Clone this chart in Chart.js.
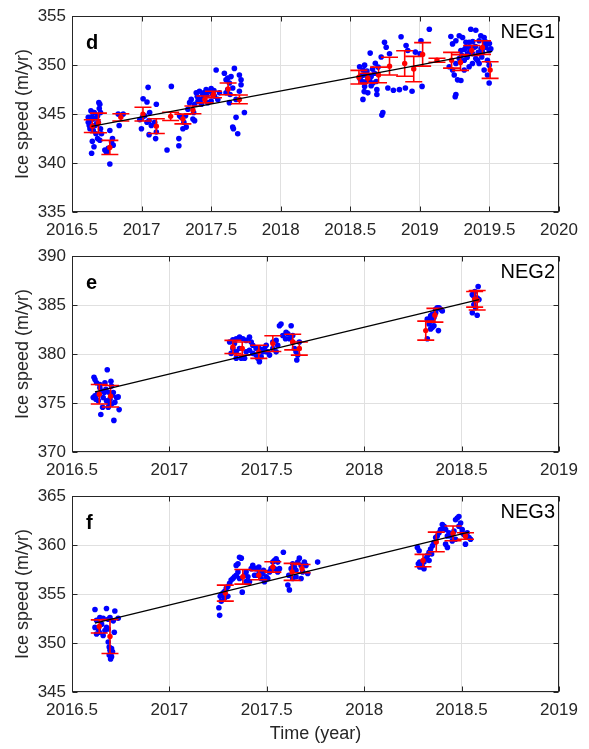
<!DOCTYPE html>
<html><head><meta charset="utf-8">
<script src="https://cdn.jsdelivr.net/npm/chart.js@4"></script>
<style>body{margin:0;background:#fff;width:589px;height:749px;overflow:hidden;position:relative;} canvas{position:absolute;left:0;}</style>
</head><body>
<canvas id="c1" width="589" height="240" style="top:0px"></canvas>
<canvas id="c2" width="589" height="240" style="top:240px"></canvas>
<canvas id="c3" width="589" height="269" style="top:480px"></canvas>
<script>
// ---------------- DATA ----------------
// Panel d (NEG1): individual velocity measurements [time, speed]
const neg1Points = [
[2016.617,344.67],[2016.641,344.73],[2016.634,344.33],[2016.653,344.5],[2016.665,343.83],[2016.677,344.0],[2016.684,344.83],[2016.693,346.17],[2016.700,346.0],[2016.696,345.57],[2016.629,343.5],[2016.653,343.33],[2016.672,343.0],[2016.646,342.23],[2016.658,341.67],[2016.641,341.0],[2016.684,342.5],[2016.700,342.33],[2016.705,343.5],[2016.712,343.0],[2016.624,343.83],[2016.617,344.17],[2016.677,344.67],[2016.660,345.17],[2016.636,345.33],[2016.705,345.17],[2016.689,344.17],
[2016.736,341.33],[2016.748,341.1],[2016.772,339.9],[2016.784,342.17],[2016.760,341.5],[2016.791,342.5],[2016.772,343.33],[2016.796,341.83],[2016.832,345.0],[2016.868,345.0],[2016.839,343.83],
[2017.011,346.57],[2017.047,347.73],[2017.039,346.23],[2017.058,345.17],[2017.023,344.83],[2017.006,344.67],[2017.054,344.33],[2017.070,343.83],[2017.106,346.0],[2017.094,344.17],[2017.106,343.17],[2017.101,342.5],[2017.054,342.9],[2017.039,344.17],[2016.987,344.43],[2016.999,343.5],
[2017.183,341.33],[2017.214,347.83],[2017.268,341.77],[2017.268,342.5],
[2017.273,344.83],[2017.285,344.67],[2017.297,343.5],[2017.304,344.17],[2017.316,344.83],[2017.321,343.67],[2017.333,345.5],[2017.345,346.17],[2017.357,346.5],[2017.369,344.5],[2017.381,344.33],[2017.374,345.17],
[2017.393,347.17],[2017.416,347.33],[2017.440,347.0],[2017.464,347.5],[2017.488,347.33],[2017.512,347.0],[2017.536,349.5],[2017.500,346.33],[2017.476,346.17],[2017.428,346.5],[2017.405,346.33],[2017.381,346.0],[2017.452,346.67],[2017.524,346.83],[2017.548,346.5],[2017.560,347.17],[2017.40,346.8],[2017.45,347.2],[2017.47,346.9],[2017.52,347.4],[2017.43,346.0],[2017.50,347.6],
[2017.595,349.17],[2017.607,348.5],[2017.619,348.67],[2017.631,348.17],[2017.643,348.83],[2017.667,349.67],[2017.655,347.67],[2017.619,347.5],[2017.636,347.0],[2017.679,346.5],[2017.703,349.0],[2017.715,348.5],[2017.715,348.0],[2017.703,347.33],[2017.739,345.17],[2017.655,343.67],[2017.660,343.5],[2017.691,343.0],[2017.679,344.67],[2017.631,346.17],[2017.607,347.17],
[2018.567,349.83],[2018.591,349.5],[2018.603,350.0],[2018.615,349.17],[2018.626,348.67],[2018.638,348.5],[2018.650,348.83],[2018.662,348.17],[2018.674,349.17],[2018.686,348.33],[2018.586,348.33],[2018.603,347.83],[2018.591,346.5],[2018.626,347.17],[2018.691,347.5],[2018.691,347.0],[2018.643,351.23],[2018.722,350.83],[2018.746,352.33],[2018.758,351.83],[2018.782,351.17],[2018.734,345.17],[2018.727,344.9],[2018.770,347.67],[2018.810,347.43],[2018.853,347.5],[2018.865,352.9],[2018.901,352.0],[2018.913,351.5],[2018.896,347.67],[2018.944,347.33],[2019.008,352.5],[2019.001,351.17],[2019.016,347.83],[2018.968,351.33],[2019.068,353.67],
[2018.58,348.9],[2018.60,349.0],[2018.62,349.4],[2018.64,348.9],[2018.61,348.3],[2018.66,349.6],[2018.57,348.6],[2018.70,349.8],[2018.60,347.3],[2018.65,347.9],[2018.68,350.2],
[2019.223,352.93],[2019.235,352.17],[2019.259,352.5],[2019.283,353.0],[2019.295,351.5],[2019.307,352.83],[2019.331,351.83],[2019.354,352.33],[2019.366,353.67],[2019.402,353.57],[2019.438,353.0],[2019.462,352.83],[2019.474,352.17],[2019.498,351.5],[2019.510,351.67],[2019.445,350.83],[2019.426,350.17],[2019.402,350.67],[2019.378,351.17],[2019.342,351.17],[2019.319,350.5],[2019.283,350.67],[2019.259,350.17],[2019.235,349.5],[2019.211,349.83],[2019.247,349.0],[2019.271,348.5],[2019.295,348.43],[2019.259,347.0],[2019.254,346.77],[2019.319,349.5],[2019.354,349.83],[2019.378,350.17],[2019.414,350.5],[2019.462,349.5],[2019.486,349.0],[2019.498,348.17],[2019.474,351.83],[2019.426,352.5],[2019.390,351.83],[2019.331,352.33],[2019.366,351.83],[2019.450,351.33],[2019.486,350.5],[2019.498,350.0],
[2019.30,351.0],[2019.34,350.8],[2019.36,351.5],[2019.40,351.9],[2019.42,351.3],[2019.44,351.7],[2019.38,352.4],[2019.32,351.6],[2019.47,352.4],[2019.50,352.2]
];
// Panel d: averaged values with error [time, mean, error]
const neg1Means = [
[2016.646,343.77,0.65],[2016.69,344.1,1.0],[2016.772,341.6,0.72],[2016.851,344.67,0.37],[2017.01,345.0,0.7],[2017.106,343.77,0.75],[2017.209,344.77,0.42],[2017.297,344.5,0.5],[2017.369,345.43,0.4],[2017.455,346.5,0.35],[2017.517,347.0,0.33],[2017.622,347.57,0.6],[2017.703,346.5,0.45],
[2018.562,348.77,0.7],[2018.626,348.67,0.5],[2018.703,349.0,0.8],[2018.782,349.9,0.9],[2018.891,350.17,1.3],[2018.956,349.6,1.3],[2019.02,351.1,1.2],[2019.123,350.5,0.2],[2019.228,350.5,0.8],[2019.292,350.27,0.8],[2019.373,351.5,0.5],[2019.45,351.8,0.7],[2019.505,349.5,0.85]
];
const neg1Trend = [[2016.64,343.74],[2019.52,351.4]];

// Panel e (NEG2)
const neg2Points = [
[2016.613,377.63],[2016.618,377.4],[2016.681,378.4],[2016.626,377.07],[2016.643,376.9],[2016.669,377.07],[2016.700,377.23],[2016.703,376.73],[2016.609,375.57],[2016.618,375.73],[2016.630,375.9],[2016.652,376.23],[2016.674,376.4],[2016.691,376.07],[2016.712,376.07],[2016.729,375.57],[2016.737,375.63],[2016.720,375.07],[2016.703,374.9],[2016.686,374.57],[2016.691,374.9],[2016.657,374.57],[2016.648,373.83],[2016.715,373.23],[2016.742,374.33],[2016.623,375.4],[2016.635,375.23],[2016.660,375.57],[2016.677,375.23],[2016.695,375.4],[2016.708,375.83],[2016.666,376.07],[2016.643,376.57],
[2017.309,381.23],[2017.326,381.47],[2017.343,381.57],[2017.360,381.73],[2017.377,381.57],[2017.394,381.4],[2017.411,381.73],[2017.420,381.23],[2017.428,380.9],[2017.326,380.57],[2017.343,380.23],[2017.369,379.57],[2017.386,379.57],[2017.394,380.23],[2017.411,380.4],[2017.428,380.07],[2017.445,379.9],[2017.462,379.23],[2017.454,379.57],[2017.471,379.73],[2017.480,380.23],[2017.488,380.57],[2017.497,380.9],[2017.505,380.23],[2017.514,379.9],[2017.531,381.23],[2017.548,381.4],[2017.556,380.9],[2017.565,382.9],[2017.573,383.07],[2017.582,381.9],[2017.599,382.23],[2017.608,382.07],[2017.616,381.57],[2017.625,382.9],[2017.633,381.23],[2017.642,380.57],[2017.650,380.23],[2017.659,379.9],[2017.654,379.4],[2017.667,381.23],[2017.633,381.9],[2017.596,381.57],[2017.531,380.57],[2017.548,380.23],[2017.497,380.23],[2017.445,380.57],[2017.462,380.57],[2017.360,380.57],[2017.334,381.07],[2017.317,380.07],[2017.343,379.57],
[2018.324,381.57],[2018.341,382.57],[2018.350,382.73],[2018.358,382.9],[2018.333,383.07],[2018.324,383.57],[2018.341,383.9],[2018.350,384.07],[2018.367,384.57],[2018.375,384.73],[2018.384,384.73],[2018.392,384.57],[2018.401,384.4],[2018.358,383.73],[2018.341,383.4],[2018.381,382.4],[2018.367,384.23],[2018.350,383.4],
[2018.585,386.9],[2018.555,386.07],[2018.563,385.9],[2018.572,385.57],[2018.580,385.73],[2018.589,385.57],[2018.555,384.23],[2018.580,383.97],[2018.563,385.07],[2018.572,384.73],[2018.568,386.4]
];
const neg2Means = [
[2016.64,375.9,1.0],[2016.698,375.7,1.1],[2017.326,380.73,0.67],[2017.374,380.57,0.67],[2017.459,380.23,0.67],[2017.531,381.07,0.8],[2017.633,381.23,0.8],[2017.667,380.57,0.67],[2018.316,382.4,0.97],[2018.363,383.97,0.7],[2018.567,385.6,0.8],[2018.58,385.5,1.0]
];
const neg2Trend = [[2016.618,376.13],[2018.589,385.57]];

// Panel f (NEG3)
const neg3Points = [
[2016.618,353.43],[2016.677,353.53],[2016.720,353.27],[2016.626,352.33],[2016.643,352.6],[2016.660,352.53],[2016.686,352.43],[2016.695,352.6],[2016.712,352.27],[2016.737,352.53],[2016.618,351.6],[2016.635,351.43],[2016.652,351.93],[2016.660,350.77],[2016.626,350.93],[2016.640,351.1],[2016.669,351.27],[2016.677,351.6],[2016.686,351.43],[2016.717,351.1],[2016.686,350.1],[2016.691,349.6],[2016.695,349.27],[2016.698,348.93],[2016.703,348.6],[2016.698,348.37],[2016.691,348.77],[2016.708,349.1],[2016.703,349.43],
[2017.254,353.6],[2017.258,352.83],[2017.261,354.77],[2017.266,354.93],[2017.275,355.1],[2017.283,355.27],[2017.292,355.6],[2017.300,355.77],[2017.309,356.1],[2017.317,356.43],[2017.326,356.6],[2017.334,356.77],[2017.343,356.93],[2017.352,357.27],[2017.360,358.77],[2017.369,358.67],[2017.352,358.1],[2017.343,357.93],[2017.360,356.6],[2017.374,355.2],[2017.386,356.93],[2017.394,357.27],[2017.403,356.77],[2017.420,357.6],[2017.428,357.77],[2017.411,356.27],[2017.394,356.27],[2017.300,354.77],[2017.283,354.6],[2017.266,354.27],
[2017.428,357.93],[2017.445,357.6],[2017.462,357.27],[2017.480,357.1],[2017.497,356.77],[2017.488,356.27],[2017.505,356.6],[2017.514,357.27],[2017.522,357.6],[2017.531,358.27],[2017.539,358.43],[2017.548,358.6],[2017.556,358.27],[2017.565,357.6],[2017.556,357.27],[2017.459,357.77],[2017.471,356.6],[2017.483,357.43],[2017.449,356.93],[2017.539,357.6],[2017.585,359.27],[2017.437,356.93],
[2017.608,355.93],[2017.616,355.43],[2017.613,356.93],[2017.625,357.6],[2017.633,358.1],[2017.642,357.77],[2017.650,357.43],[2017.659,358.27],[2017.667,358.67],[2017.676,357.93],[2017.684,357.27],[2017.693,358.27],[2017.701,357.93],[2017.710,357.1],[2017.676,356.6],[2017.650,356.77],[2017.633,356.6],[2017.761,358.27],
[2018.273,359.77],[2018.282,359.43],[2018.285,358.27],[2018.278,358.1],[2018.290,357.93],[2018.299,357.77],[2018.307,358.27],[2018.316,358.6],[2018.324,358.93],[2018.333,359.27],[2018.341,359.6],[2018.350,359.93],[2018.358,360.27],[2018.367,360.77],[2018.375,360.93],[2018.384,361.27],[2018.392,361.6],[2018.401,362.1],[2018.410,361.93],[2018.418,360.1],[2018.427,359.77],[2018.307,357.6],[2018.285,357.77],[2018.333,358.43],[2018.346,359.1],
[2018.418,361.6],[2018.435,361.27],[2018.444,360.93],[2018.452,361.1],[2018.461,361.43],[2018.469,362.6],[2018.478,362.77],[2018.486,362.93],[2018.495,362.27],[2018.503,361.6],[2018.512,361.1],[2018.520,360.93],[2018.529,361.27],[2018.538,360.77],[2018.546,360.6],[2018.520,360.1],[2018.469,360.6],[2018.452,360.43],[2018.486,361.93],[2018.503,361.27],[2018.427,360.93]
];
const neg3Means = [
[2016.64,351.7,0.67],[2016.695,350.67,1.73],[2017.287,355.1,0.82],[2017.377,356.77,0.75],[2017.459,356.93,0.47],[2017.531,357.77,0.53],[2017.63,357.27,0.87],[2017.681,357.6,0.42],[2018.302,358.43,0.63],[2018.37,360.33,1.0],[2018.456,361.2,0.75],[2018.52,360.93,0.33]
];
const neg3Trend = [[2016.618,352.03],[2018.538,361.33]];

// Axis ranges and labels
const panelLetters = ['d','e','f'];
const panelNames = ['NEG1','NEG2','NEG3'];
const xRanges = [[2016.5,2020],[2016.5,2019],[2016.5,2019]];
const yRanges = [[335,355],[370,390],[345,365]];
const xStep = 0.5, yStep = 5;
const yTitle = 'Ice speed (m/yr)';
const xTitle = 'Time (year)';

// ---------------- DRAWING ----------------
const FONT = "'Liberation Sans', Arial, Helvetica, sans-serif";
const AXC = '#262626';

const errorBarPlugin = {
  id: 'errbars',
  afterDatasetDraw(chart, args) {
    const ds = chart.data.datasets[args.index];
    if (ds.label !== 'means') return;
    const xs = chart.scales.x, ys = chart.scales.y, ctx = chart.ctx;
    const a = chart.chartArea;
    ctx.save();
    ctx.beginPath(); ctx.rect(a.left, a.top, a.right - a.left, a.bottom - a.top); ctx.clip();
    ctx.strokeStyle = '#ff0000'; ctx.lineWidth = 1.6;
    const cap = 8.5;
    ds.errors.forEach(m => {
      const px = xs.getPixelForValue(m[0]);
      const pt = ys.getPixelForValue(m[1] + m[2]);
      const pb = ys.getPixelForValue(m[1] - m[2]);
      ctx.beginPath();
      ctx.moveTo(px, pt); ctx.lineTo(px, pb);
      ctx.moveTo(px - cap, pt); ctx.lineTo(px + cap, pt);
      ctx.moveTo(px - cap, pb); ctx.lineTo(px + cap, pb);
      ctx.stroke();
    });
    ctx.restore();
  }
};

const boxPlugin = {
  id: 'box',
  afterDraw(chart) {
    const ctx = chart.ctx, a = chart.chartArea;
    const xs = chart.scales.x, ys = chart.scales.y;
    const o = chart.options.plugins.box;
    ctx.save();
    ctx.strokeStyle = AXC; ctx.lineWidth = 1;
    const L = Math.round(a.left) + 0.5, R = Math.round(a.right) - 0.5, T = Math.round(a.top) + 0.5, B = Math.round(a.bottom) - 0.5;
    ctx.strokeRect(L, T, R - L, B - T);
    const tl = 5;
    ctx.beginPath();
    xs.ticks.forEach(t => {
      const p = Math.round(xs.getPixelForValue(t.value)) + 0.5;
      ctx.moveTo(p, B); ctx.lineTo(p, B - tl);
      ctx.moveTo(p, T); ctx.lineTo(p, T + tl);
    });
    ys.ticks.forEach(t => {
      const p = Math.round(ys.getPixelForValue(t.value)) + 0.5;
      ctx.moveTo(L, p); ctx.lineTo(L + tl, p);
      ctx.moveTo(R, p); ctx.lineTo(R - tl, p);
    });
    ctx.stroke();
    // panel letter and name
    ctx.fillStyle = '#000';
    ctx.textBaseline = 'alphabetic';
    ctx.font = 'bold 20px ' + FONT;
    ctx.textAlign = 'left';
    ctx.fillText(o.letter, a.left + 14, a.top + 33);
    ctx.font = '20px ' + FONT;
    ctx.textAlign = 'right';
    ctx.fillText(o.name, a.right - 4, a.top + 22);
    ctx.restore();
  }
};

function fmt(v) { return String(Math.round(v * 10) / 10); }

function makePanel(id, i, points, means, trend, showXTitle, canvasH) {
  const ctx = document.getElementById(id).getContext('2d');
  return new Chart(ctx, {
    type: 'scatter',
    data: {
      datasets: [
        { label: 'trend', type: 'line', data: trend.map(p => ({x: p[0], y: p[1]})),
          borderColor: '#000', borderWidth: 1.3, pointRadius: 0, fill: false, order: 0 },
        { label: 'means', data: means.map(p => ({x: p[0], y: p[1]})), errors: means,
          backgroundColor: '#ff0000', borderWidth: 0, pointRadius: 2.7, order: 1 },
        { label: 'points', data: points.map(p => ({x: p[0], y: p[1]})),
          backgroundColor: '#0000ff', borderWidth: 0, pointRadius: 2.8, order: 2 }
      ]
    },
    options: {
      responsive: false, animation: false, devicePixelRatio: 1,
      layout: { padding: { top: 12, right: 30, left: 0, bottom: 0 } },
      plugins: { legend: { display: false }, tooltip: { enabled: false },
                 box: { letter: panelLetters[i], name: panelNames[i] } },
      scales: {
        x: {
          type: 'linear', min: xRanges[i][0], max: xRanges[i][1],
          afterFit: s => { s.height = canvasH - 212; },
          ticks: { stepSize: xStep, padding: 8, color: AXC, font: { family: FONT, size: 17 }, callback: v => fmt(v), maxRotation: 0, autoSkip: false },
          grid: { color: '#e0e0e0', lineWidth: 1, drawTicks: false },
          border: { display: false },
          title: { display: showXTitle, text: xTitle, color: AXC, font: { family: FONT, size: 18 }, padding: { top: 0, bottom: 4 } }
        },
        y: {
          type: 'linear', min: yRanges[i][0], max: yRanges[i][1],
          afterFit: s => { s.width = 72; },
          ticks: { stepSize: yStep, padding: 6, color: AXC, font: { family: FONT, size: 17 }, callback: v => fmt(v) },
          grid: { color: '#e0e0e0', lineWidth: 1, drawTicks: false },
          border: { display: false },
          title: { display: true, text: yTitle, color: AXC, font: { family: FONT, size: 18 }, padding: { top: 12, bottom: 0 } }
        }
      }
    },
    plugins: [errorBarPlugin, boxPlugin]
  });
}

makePanel('c1', 0, neg1Points, neg1Means, neg1Trend, false, 240);
makePanel('c2', 1, neg2Points, neg2Means, neg2Trend, false, 240);
makePanel('c3', 2, neg3Points, neg3Means, neg3Trend, true, 269);
</script>
</body></html>
